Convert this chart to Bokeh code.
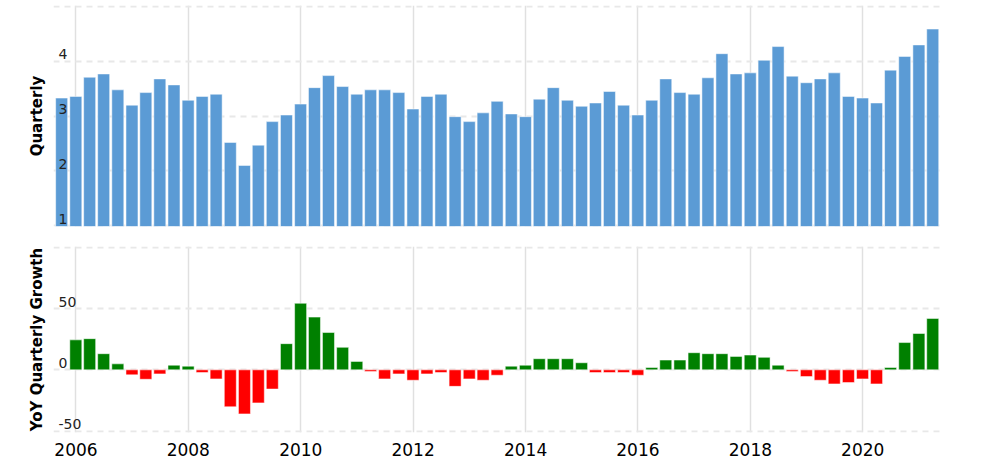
import pandas as pd
from bokeh.plotting import figure
from bokeh.layouts import column
from bokeh.models import (Range1d, FixedTicker, DatetimeAxis, Grid, Title,
                          DatetimeTickFormatter, ColumnDataSource)
from bokeh.core.properties import value
from bokeh.embed import file_html
from bokeh.resources import INLINE

# ---------------- data ----------------
first_quarter_end = "2005-09-30"
quarterly = [3.33, 3.36, 3.71, 3.77, 3.48, 3.20, 3.43, 3.68, 3.57, 3.29,
             3.36, 3.40, 2.52, 2.10, 2.47, 2.90, 3.02, 3.22, 3.52, 3.74,
             3.54, 3.40, 3.48, 3.48, 3.43, 3.13, 3.36, 3.40, 2.99, 2.90,
             3.06, 3.27, 3.04, 2.99, 3.31, 3.52, 3.29, 3.18, 3.24, 3.45,
             3.20, 3.02, 3.29, 3.68, 3.43, 3.40, 3.70, 4.14, 3.77, 3.79,
             4.02, 4.27, 3.73, 3.61, 3.68, 3.79, 3.36, 3.33, 3.24, 3.84,
             4.09, 4.30, 4.59]
yoy_growth = [24.5, 25.5, 13.2, 4.9, -4.1, -7.7, -3.3, 3.8, 3.0,
              -2.2, -7.4, -30.2, -36.0, -27.0, -15.7, 21.4, 54.4, 43.1, 30.5,
              18.4, 6.9, -1.4, -7.4, -3.3, -8.5, -3.3, -2.2, -13.5, -7.4,
              -8.5, -4.4, 3.0, 3.8, 9.1, 9.1, 9.1, 5.8, -2.2, -2.2,
              -2.2, -4.4, 1.9, 8.0, 8.0, 14.0, 13.2, 13.2, 11.0, 12.1,
              10.2, 3.8, -1.4, -5.5, -8.5, -11.5, -10.4, -7.4, -11.5, 1.9,
              22.3, 29.7, 42.0]

top_ticks = [1, 2, 3, 4]
top_tick_labels = ["1", "2", "3", "4"]
top_grid = [1, 2, 3, 4, 5]
bottom_ticks = [-50, 0, 50]
bottom_tick_labels = ["-50", "0", "50"]
bottom_grid = [-50, 0, 50, 100]
year_ticks = [2006, 2008, 2010, 2012, 2014, 2016, 2018, 2020]

# ---------------- derived ----------------
try:
    dates = pd.date_range(first_quarter_end, periods=len(quarterly), freq="QE")
except Exception:
    dates = pd.date_range(first_quarter_end, periods=len(quarterly), freq="Q")
dates = list(dates.to_pydatetime())
growth_dates = dates[len(dates) - len(yoy_growth):]
growth_colors = ["#008000" if g >= 0 else "#ff0000" for g in yoy_growth]

x_start = pd.Timestamp("2005-08-08").to_pydatetime()
x_end = pd.Timestamp("2021-05-27").to_pydatetime()
year_ms = [pd.Timestamp(f"{y}-01-01").value // 10**6 for y in year_ticks]
bar_w = 78 * 86400000

FONT = "DejaVu Sans"
x_range = Range1d(x_start, x_end)


def make_fig(frame_height, y0, y1, mb_top, mb_bottom, label, grid_vals):
    p = figure(frame_width=888, frame_height=frame_height, x_range=x_range,
               y_range=Range1d(y0, y1), x_axis_location=None,
               y_axis_location=None, output_backend="svg",
               toolbar_location=None, min_border_left=53, min_border_right=20,
               min_border_top=mb_top, min_border_bottom=mb_bottom)
    p.outline_line_color = None
    p.center = []
    p.add_layout(Title(text=label, align="center", standoff=16,
                       text_font=FONT, text_font_style="bold",
                       text_font_size="15px", text_color="#000000"), "left")
    p.add_layout(Grid(dimension=0, ticker=FixedTicker(ticks=year_ms),
                      grid_line_color="#e0e0e0", grid_line_width=1.5))
    p.add_layout(Grid(dimension=1, ticker=FixedTicker(ticks=grid_vals),
                      grid_line_color="#e8e8e8", grid_line_width=2,
                      grid_line_dash="6 5"))
    return p


top = make_fig(221, 0.985, 5.02, 5, 10, "Quarterly", top_grid)
top.vbar(x=dates, top=quarterly, bottom=0, width=bar_w,
         fill_color="#5b9bd5", line_color="white", line_alpha=0.5, line_width=1)
top.text(x=[x_start] * len(top_ticks), y=top_ticks, text=top_tick_labels,
         x_offset=5, y_offset=-2, text_font=value(FONT), text_font_size="14px",
         text_color="#222222", text_baseline="bottom")

bottom = make_fig(186, -51.2, 100.8, 10, 0, "YoY Quarterly Growth", bottom_grid)
src = ColumnDataSource(dict(x=growth_dates, top=yoy_growth, color=growth_colors))
bottom.vbar(x="x", top="top", bottom=0, width=bar_w, source=src,
            fill_color="color", line_color="white", line_alpha=0.5, line_width=1)
bottom.text(x=[x_start] * len(bottom_ticks), y=bottom_ticks,
            text=bottom_tick_labels, x_offset=5, y_offset=-2,
            text_font=value(FONT), text_font_size="14px", text_color="#222222",
            text_baseline="bottom")
xax = DatetimeAxis(ticker=FixedTicker(ticks=year_ms),
                   formatter=DatetimeTickFormatter(years="%Y", months="%Y",
                                                   days="%Y", hours="%Y"),
                   major_tick_in=0, major_tick_out=0, minor_tick_in=0,
                   minor_tick_out=0, axis_line_color=None,
                   major_tick_line_color=None, minor_tick_line_color=None,
                   major_label_standoff=10, major_label_text_font=FONT,
                   major_label_text_font_size="17px",
                   major_label_text_color="#000000")
bottom.add_layout(xax, "below")

layout = column(top, bottom, spacing=0)
open("out.html", "w").write(file_html(layout, INLINE))
